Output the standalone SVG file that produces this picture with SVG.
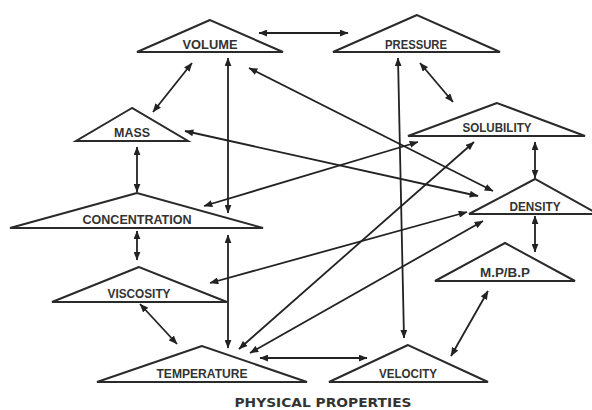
<svg xmlns="http://www.w3.org/2000/svg" width="592" height="410" viewBox="0 0 592 410">
<defs>
<marker id="ah" viewBox="0 0 10 8" refX="9.5" refY="4" markerWidth="9" markerHeight="7" markerUnits="userSpaceOnUse" orient="auto-start-reverse">
<path d="M0,0 L10,4 L0,8 Z" fill="#222"/>
</marker>
<style>
.tri{fill:#fff;stroke:#2a2a2a;stroke-width:2;stroke-linejoin:miter}
.lbl{font-family:"Liberation Sans",Arial,sans-serif;font-weight:bold;font-size:13px;fill:#333;text-anchor:middle}
.title{font-family:"DejaVu Sans",sans-serif;font-weight:bold;font-size:13px;fill:#333;text-anchor:middle}
.c{stroke:#222;stroke-width:1.8;fill:none;marker-start:url(#ah);marker-end:url(#ah)}
</style>
</defs>
<rect width="592" height="410" fill="#fff"/>
<g id="volume"><polygon class="tri" points="210,20 137,52 283,52"/><text class="lbl" x="210" y="49" textLength="55" lengthAdjust="spacingAndGlyphs">VOLUME</text></g>
<g id="pressure"><polygon class="tri" points="417,15 333,52 500,52"/><text class="lbl" x="416" y="49" textLength="62" lengthAdjust="spacingAndGlyphs">PRESSURE</text></g>
<g id="mass"><polygon class="tri" points="132,108 76,141 188,141"/><text class="lbl" x="132" y="137" textLength="36" lengthAdjust="spacingAndGlyphs">MASS</text></g>
<g id="concentration"><polygon class="tri" points="137,193 10,228 263,228"/><text class="lbl" x="137" y="224" textLength="109" lengthAdjust="spacingAndGlyphs">CONCENTRATION</text></g>
<g id="solubility"><polygon class="tri" points="497,103 408,136 585,136"/><text class="lbl" x="497" y="132" textLength="69" lengthAdjust="spacingAndGlyphs">SOLUBILITY</text></g>
<g id="density"><polygon class="tri" points="535,179 469,214 598,214"/><text class="lbl" x="535" y="211" textLength="51" lengthAdjust="spacingAndGlyphs">DENSITY</text></g>
<g id="mpbp"><polygon class="tri" points="505,243 435,281 575,281"/><text class="lbl" x="505" y="277" textLength="50" lengthAdjust="spacingAndGlyphs">M.P/B.P</text></g>
<g id="viscosity"><polygon class="tri" points="139,267 52,302 227,302"/><text class="lbl" x="139" y="298" textLength="63" lengthAdjust="spacingAndGlyphs">VISCOSITY</text></g>
<g id="temperature"><polygon class="tri" points="202,346 97,382 307,382"/><text class="lbl" x="202" y="378" textLength="91" lengthAdjust="spacingAndGlyphs">TEMPERATURE</text></g>
<g id="velocity"><polygon class="tri" points="408,345 329,382 488,382"/><text class="lbl" x="408" y="378" textLength="58" lengthAdjust="spacingAndGlyphs">VELOCITY</text></g>
<g id="connectors">
<line class="c" x1="259" y1="33" x2="348" y2="33"/>
<line class="c" x1="192" y1="63" x2="153" y2="112"/>
<line class="c" x1="228" y1="58" x2="228" y2="213"/>
<line class="c" x1="249" y1="68" x2="493" y2="191"/>
<line class="c" x1="185" y1="131" x2="478" y2="196"/>
<line class="c" x1="204" y1="206" x2="418" y2="142"/>
<line class="c" x1="398" y1="58" x2="404" y2="338"/>
<line class="c" x1="420" y1="63" x2="453" y2="102"/>
<line class="c" x1="474" y1="142" x2="239" y2="349"/>
<line class="c" x1="483" y1="221" x2="250" y2="353"/>
<line class="c" x1="260" y1="358" x2="367" y2="358"/>
<line class="c" x1="210" y1="283" x2="467" y2="212"/>
<line class="c" x1="137" y1="147" x2="137" y2="192"/>
<line class="c" x1="137" y1="231" x2="137" y2="260"/>
<line class="c" x1="228" y1="235" x2="228" y2="348"/>
<line class="c" x1="140" y1="304" x2="177" y2="344"/>
<line class="c" x1="535" y1="142" x2="535" y2="178"/>
<line class="c" x1="535" y1="216" x2="535" y2="252"/>
<line class="c" x1="488" y1="291" x2="451" y2="356"/>
</g>
<text class="title" x="323" y="407" textLength="177" lengthAdjust="spacingAndGlyphs">PHYSICAL PROPERTIES</text>
</svg>
